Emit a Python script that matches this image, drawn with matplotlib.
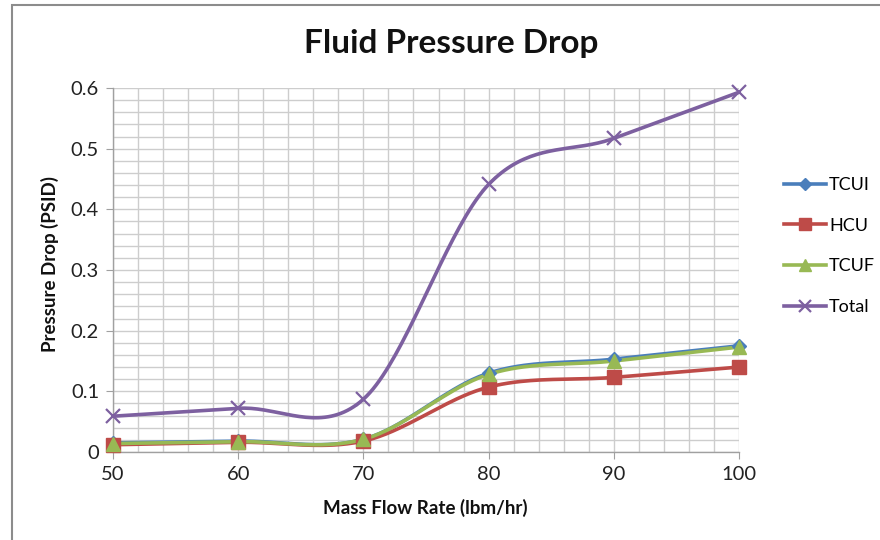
import numpy as np
import matplotlib
matplotlib.use("Agg")
import matplotlib.pyplot as plt
from matplotlib.ticker import MultipleLocator, FuncFormatter
from matplotlib.patches import Rectangle
from matplotlib.lines import Line2D

plt.rcParams['font.family'] = ['Lato', 'DejaVu Sans']

flow_rate = [50, 60, 70, 80, 90, 100]
tcui = [0.015, 0.018, 0.021, 0.130, 0.153, 0.175]
hcu = [0.012, 0.016, 0.018, 0.107, 0.123, 0.140]
tcuf = [0.014, 0.017, 0.021, 0.128, 0.150, 0.173]
total = [0.059, 0.072, 0.087, 0.441, 0.517, 0.593]

series_names = ["TCUI", "HCU", "TCUF", "Total"]
series_values = [tcui, hcu, tcuf, total]
series_colors = ["#4a7ebb", "#be4b48", "#98b954", "#7d60a0"]
series_markers = ["D", "s", "^", "x"]
marker_sizes = [7, 10, 10, 10]


def smooth_curve(x, y, n=40):
    """Catmull-Rom style cubic Bezier smoothing through every point."""
    x = np.asarray(x, float)
    y = np.asarray(y, float)
    pts = np.column_stack([x, y])
    out = []
    for i in range(len(pts) - 1):
        p0 = pts[i - 1] if i > 0 else pts[i]
        p1 = pts[i]
        p2 = pts[i + 1]
        p3 = pts[i + 2] if i + 2 < len(pts) else pts[i + 1]
        c1 = p1 + (p2 - p0) / 6.0
        c2 = p2 - (p3 - p1) / 6.0
        t = np.linspace(0, 1, n)[:, None]
        seg = ((1 - t) ** 3) * p1 + 3 * ((1 - t) ** 2) * t * c1 \
            + 3 * (1 - t) * t ** 2 * c2 + t ** 3 * p2
        if i > 0:
            seg = seg[1:]
        out.append(seg)
    curve = np.vstack(out)
    return curve[:, 0], curve[:, 1]


fig = plt.figure(figsize=(8.8, 5.4), dpi=100)
fig.patch.set_facecolor("white")

# chart frame
fig.patches.append(Rectangle((12 / 880, -0.1), 1.2, (540 - 5) / 540 + 0.1,
                             transform=fig.transFigure, fill=False,
                             edgecolor="#8c8c8c", linewidth=1.5))

ax = fig.add_axes([113 / 880, (540 - 452) / 540, 626 / 880, 364 / 540])
ax.set_xlim(50, 100)
ax.set_ylim(0, 0.6)

ax.xaxis.set_major_locator(MultipleLocator(10))
ax.xaxis.set_minor_locator(MultipleLocator(2))
ax.yaxis.set_major_locator(MultipleLocator(0.1))
ax.yaxis.set_minor_locator(MultipleLocator(0.02))
ax.yaxis.set_major_formatter(FuncFormatter(lambda v, p: f"{v:g}"))
ax.grid(True, which="both", color="#cdcdcd", linewidth=1.0)
ax.set_axisbelow(True)
ax.tick_params(which="minor", length=0)
ax.tick_params(which="major", length=5, color="#a0a0a0", labelsize=14.5,
               labelcolor="#222222", pad=5)
for side in ("top", "right"):
    ax.spines[side].set_visible(False)
for side in ("left", "bottom"):
    ax.spines[side].set_color("#a0a0a0")
    ax.spines[side].set_linewidth(1.0)

handles = []
for name, vals, col, mk, ms in zip(series_names, series_values, series_colors,
                                   series_markers, marker_sizes):
    sx, sy = smooth_curve(flow_rate, vals)
    ax.plot(sx, sy, color=col, linewidth=2.6, solid_capstyle="round",
            clip_on=False, zorder=3)
    if mk == "x":
        ax.plot(flow_rate, vals, linestyle="none", marker=mk, markersize=ms,
                markeredgecolor=col, markeredgewidth=1.6, clip_on=False,
                zorder=4)
    else:
        ax.plot(flow_rate, vals, linestyle="none", marker=mk, markersize=ms,
                markerfacecolor=col, markeredgecolor=col, clip_on=False,
                zorder=4)
    handles.append(Line2D([], [], color=col, linewidth=2.6, marker=mk,
                          markersize=ms * 0.9, markerfacecolor=col,
                          markeredgecolor=col,
                          markeredgewidth=1.6 if mk == "x" else 1.0))

fig.legend(handles, series_names, loc="upper left",
           bbox_to_anchor=(784 / 880, 1 - 177 / 540), frameon=False,
           fontsize=13, handlelength=2.3, handletextpad=0.2,
           labelspacing=1.37, borderaxespad=0, borderpad=0)

fig.text(451 / 880, 1 - 44 / 540, "Fluid Pressure Drop", ha="center",
         va="center", fontsize=24, fontweight="bold", color="#111111")
fig.text(425 / 880, 1 - 508 / 540, "Mass Flow Rate (lbm/hr)", ha="center",
         va="center", fontsize=13.5, fontweight="bold", color="#111111")
fig.text(50 / 880, 1 - 264 / 540, "Pressure Drop (PSID)", ha="center",
         va="center", rotation=90, fontsize=13.5, fontweight="bold",
         color="#111111")

fig.savefig("out.png", dpi=100, facecolor="white")
